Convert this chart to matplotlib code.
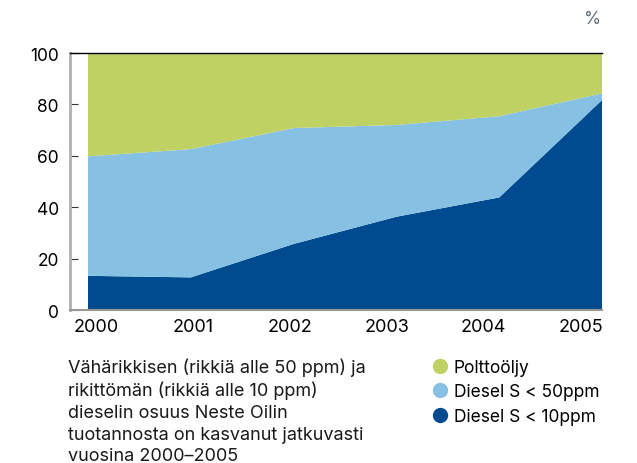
import numpy as np
import matplotlib
matplotlib.use('Agg')
from matplotlib import pyplot as plt
from matplotlib.lines import Line2D

plt.rcParams['font.family'] = ['Inter', 'DejaVu Sans']

years = [2000, 2001, 2002, 2003, 2004, 2005]
year_labels = ['2000', '2001', '2002', '2003', '2004', '2005']
diesel10 = [13.3, 12.7, 25.7, 36.3, 43.8, 81.7]
diesel50 = [46.5, 49.9, 45.1, 35.7, 31.6, 2.6]
polttooljy = [40.2, 37.4, 29.2, 28.0, 24.6, 15.7]
series_names = ['Polttoöljy', 'Diesel S < 50ppm', 'Diesel S < 10ppm']
colors = ['#bfd162', '#86c1e4', '#004b8f']
caption = ('Vähärikkisen (rikkiä alle 50 ppm) ja\n'
           'rikittömän (rikkiä alle 10 ppm)\n'
           'dieselin osuus Neste Oilin\n'
           'tuotannosta on kasvanut jatkuvasti\n'
           'vuosina 2000\u20132005')

fig = plt.figure(figsize=(6.37, 4.64), dpi=100)
ax = fig.add_axes([0.1099, 0.3297, 0.8352, 0.5539])

# stacked areas, bottom to top
ax.stackplot(years, diesel10, diesel50, polttooljy,
             colors=[colors[2], colors[1], colors[0]], linewidth=0)

ax.set_xlim(1999.825, 2005)
ax.set_ylim(0, 100)
ax.set_yticks([0, 20, 40, 60, 80, 100])
# year labels sit evenly inside the plot width, like in the original
ax.set_xticks(np.linspace(years[0] + 0.08, years[-1] - 0.21, len(years)))
ax.set_xticklabels(year_labels)
ax.tick_params(axis='y', direction='in', length=6, width=0.8, color='#333333',
               labelsize=12.5, pad=8)
ax.tick_params(axis='x', length=0, labelsize=13, pad=6)

ax.spines['right'].set_visible(False)
ax.spines['top'].set_color('black')
ax.spines['top'].set_linewidth(1)
ax.spines['left'].set_color('#b0b0b0')
ax.spines['left'].set_linewidth(2)
ax.spines['bottom'].set_color('#999999')
ax.spines['bottom'].set_linewidth(1.5)

fig.text(0.931, 0.957, '%', fontsize=12.5, color='#5c6b7a', ha='center', va='center')

fig.text(0.106, 0.228, caption, fontsize=13, va='top', ha='left',
         linespacing=1.36, color='#1a1a1a')

handles = [Line2D([], [], marker='o', linestyle='', markersize=10,
                  markerfacecolor=c, markeredgecolor=c) for c in colors]
fig.legend(handles, series_names, loc='upper left', bbox_to_anchor=(0.663, 0.24),
           frameon=False, fontsize=12.5, handletextpad=0.2, labelspacing=0.45,
           handlelength=1.2, borderaxespad=0)

plt.savefig('out.png', dpi=100)
